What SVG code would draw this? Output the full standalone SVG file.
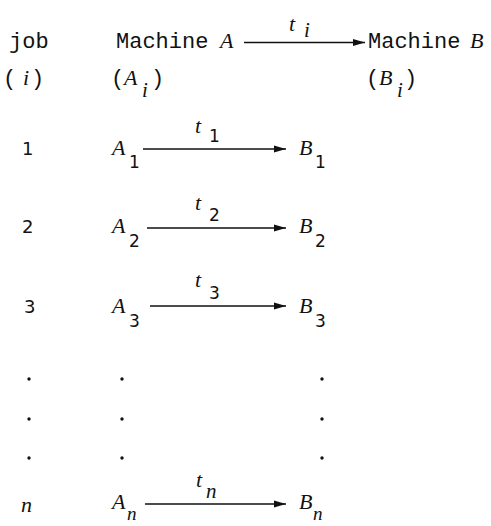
<svg xmlns="http://www.w3.org/2000/svg" width="491" height="526" viewBox="0 0 491 526">
<style>
  .mono{font-family:"Liberation Mono","DejaVu Sans Mono",monospace;font-size:22px;fill:#111}
  .it{font-family:"Liberation Serif","DejaVu Serif",serif;font-style:italic;font-size:22px;fill:#111}
  .sub{font-family:"Liberation Serif","DejaVu Serif",serif;font-style:italic;font-size:21px;fill:#111}
  .subb{font-family:"Liberation Serif","DejaVu Serif",serif;font-style:italic;font-size:19px;fill:#111}
  .num{font-family:"DejaVu Sans","Liberation Sans",sans-serif;font-size:18px;fill:#111}
  .subn{font-family:"DejaVu Sans","Liberation Sans",sans-serif;font-size:17px;fill:#111}
  .arrow{stroke:#111;stroke-width:1.5;fill:none;marker-end:url(#ah)}
  .dot{fill:#111}
</style>
<defs>
  <marker id="ah" markerUnits="userSpaceOnUse" markerWidth="14" markerHeight="10" refX="12" refY="4" orient="auto">
    <path d="M0,0.5 L12,4 L0,7.5 Z" fill="#111"/>
  </marker>
</defs>
<rect width="491" height="526" fill="#fff"/>

<g id="header-job">
  <text class="mono" x="9" y="48">job</text>
  <text class="mono" x="3" y="85">(</text><text class="it" x="23" y="85">i</text><text class="mono" x="31" y="85">)</text>
</g>
<g id="header-machine-A">
  <text class="mono" x="116" y="48">Machine</text><text class="it" x="220" y="48">A</text>
  <text class="mono" x="111" y="85">(</text><text class="it" x="124" y="85">A</text><text class="sub" x="142" y="97">i</text><text class="mono" x="151" y="85">)</text>
</g>
<g id="header-machine-B">
  <text class="mono" x="368" y="48">Machine</text><text class="it" x="470" y="48">B</text>
  <text class="mono" x="366" y="85">(</text><text class="it" x="379" y="85">B</text><text class="sub" x="397" y="97">i</text><text class="mono" x="404" y="85">)</text>
</g>

<g id="job-1"><text class="num" x="22" y="155">1</text></g>
<g id="A1"><text class="it" x="112" y="155">A</text><text class="subn" x="129" y="168">1</text></g>
<g id="B1"><text class="it" x="299" y="155">B</text><text class="subn" x="315" y="168">1</text></g>

<g id="job-2"><text class="num" x="22" y="233">2</text></g>
<g id="A2"><text class="it" x="112" y="233">A</text><text class="subn" x="129" y="247">2</text></g>
<g id="B2"><text class="it" x="299" y="233">B</text><text class="subn" x="315" y="247">2</text></g>

<g id="job-3"><text class="num" x="24" y="313">3</text></g>
<g id="A3"><text class="it" x="112" y="313">A</text><text class="subn" x="129" y="327">3</text></g>
<g id="B3"><text class="it" x="299" y="313">B</text><text class="subn" x="315" y="327">3</text></g>

<g id="ellipsis">
  <circle class="dot" cx="29" cy="379" r="1.7"/><circle class="dot" cx="122" cy="379" r="1.7"/><circle class="dot" cx="322" cy="379" r="1.7"/>
  <circle class="dot" cx="29" cy="419" r="1.7"/><circle class="dot" cx="122" cy="419" r="1.7"/><circle class="dot" cx="322" cy="419" r="1.7"/>
  <circle class="dot" cx="29" cy="458" r="1.7"/><circle class="dot" cx="122" cy="458" r="1.7"/><circle class="dot" cx="322" cy="458" r="1.7"/>
</g>

<g id="job-n"><text class="it" x="21" y="512">n</text></g>
<g id="An"><text class="it" x="112" y="509">A</text><text class="subb" x="127" y="520">n</text></g>
<g id="Bn"><text class="it" x="299" y="509">B</text><text class="subb" x="313" y="520">n</text></g>

<g id="connectors">
  <line class="arrow" x1="244" y1="42.5" x2="365" y2="42.5"/>
  <text class="it" x="289" y="31">t</text><text class="sub" x="304" y="37">i</text>

  <line class="arrow" x1="143" y1="149" x2="286" y2="149"/>
  <text class="it" x="195" y="133">t</text><text class="subn" x="209" y="142">1</text>

  <line class="arrow" x1="147" y1="228" x2="286" y2="228"/>
  <text class="it" x="195" y="210">t</text><text class="subn" x="209" y="221">2</text>

  <line class="arrow" x1="150" y1="306" x2="286" y2="306"/>
  <text class="it" x="195" y="287">t</text><text class="subn" x="209" y="299">3</text>

  <line class="arrow" x1="145" y1="504" x2="286" y2="504"/>
  <text class="it" x="196" y="487">t</text><text class="sub" x="206" y="498">n</text>
</g>
</svg>
